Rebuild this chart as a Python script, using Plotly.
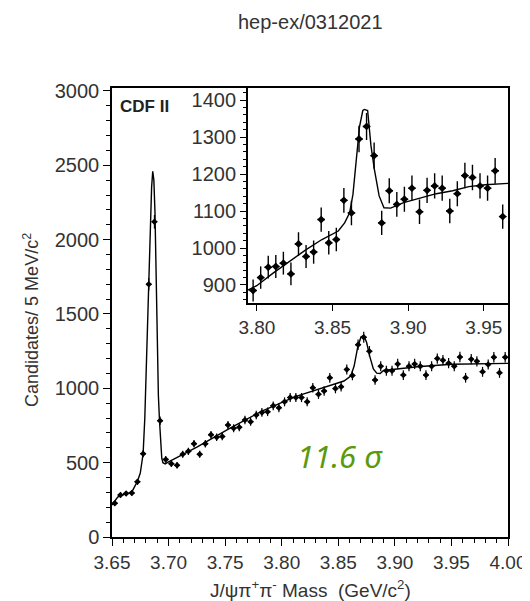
import numpy as np
import plotly.graph_objects as go

# ---------------- data ----------------
bin_start = 3.65
bin_width = 0.005

main_counts = [227, 282, 293, 296, 371, 560, 1700, 2120, 782, 522,
               493, 482, 556, 576, 627, 556, 627, 687, 671, 676,
               753, 731, 738, 787, 776, 820, 838, 842, 882, 869,
               909, 938, 938, 938, 909, 1004, 960, 982, 1071, 998,
               1011, 1127, 1087, 1293, 1344, 1249, 1056, 1149, 1118, 1118,
               1164, 1089, 1149, 1164, 1149, 1089, 1149, 1200, 1189, 1169,
               1149, 1211, 1071, 1196, 1182, 1111, 1160, 1209, 1104, 1209]

main_fit_mass = [3.650, 3.6525, 3.655, 3.660, 3.665, 3.668, 3.670, 3.6725, 3.675, 3.6775,
                 3.679, 3.680, 3.681, 3.6825, 3.684, 3.685, 3.686, 3.687, 3.688, 3.689,
                 3.690, 3.691, 3.692, 3.693, 3.694, 3.695, 3.697, 3.700, 3.725, 3.754,
                 3.783, 3.812, 3.841, 3.855, 3.861, 3.864, 3.867, 3.870, 3.8725, 3.875,
                 3.878, 3.881, 3.884, 3.887, 3.890, 3.900, 3.920, 3.950, 4.000]
main_fit_vals = [215, 240, 268, 285, 295, 310, 335, 375, 430, 560,
                 800, 1050, 1400, 1720, 2050, 2350, 2460, 2400, 2180, 1750,
                 1300, 950, 780, 620, 530, 500, 492, 505, 604, 731,
                 849, 944, 1016, 1049, 1082, 1150, 1270, 1345, 1355, 1310,
                 1210, 1130, 1102, 1100, 1120, 1130, 1145, 1162, 1168]

inset_start = 3.795
inset_counts = [885, 920, 948, 950, 959, 930, 1011, 977, 989, 1077,
                1014, 1023, 1129, 1095, 1295, 1329, 1250, 1068, 1155, 1118,
                1132, 1162, 1098, 1156, 1168, 1162, 1100, 1147, 1196, 1191,
                1168, 1162, 1209, 1085]

inset_fit_mass = [3.794, 3.7999, 3.8107, 3.8215, 3.8323, 3.843, 3.8538, 3.858, 3.8613, 3.8635,
                  3.8657, 3.8678, 3.8700, 3.8711, 3.8732, 3.8754, 3.8776, 3.8808, 3.884, 3.8884,
                  3.897, 3.9078, 3.9186, 3.9294, 3.9401, 3.9509, 3.966]
inset_fit_vals = [886, 898, 932, 964, 995, 1023, 1046, 1068, 1095, 1145,
                  1245, 1327, 1372, 1375, 1372, 1277, 1214, 1141, 1109, 1108,
                  1123, 1134, 1147, 1155, 1166, 1171, 1175]

main_yticks = [0, 500, 1000, 1500, 2000, 2500, 3000]
inset_yticks = [900, 1000, 1100, 1200, 1300, 1400]

# ---------------- derived ----------------
main_mass = [bin_start + bin_width * (i + 0.5) for i in range(len(main_counts))]
inset_mass = [inset_start + bin_width * (i + 0.5) for i in range(len(inset_counts))]

FONT = "Liberation Sans, Arial, sans-serif"
TXT = "#333333"

fig = go.Figure()

fig.add_trace(go.Scatter(x=main_fit_mass, y=main_fit_vals, mode="lines",
                         line=dict(color="black", width=1.4), xaxis="x", yaxis="y",
                         showlegend=False, hoverinfo="skip"))
fig.add_trace(go.Scatter(x=main_mass, y=main_counts, mode="markers",
                         marker=dict(symbol="diamond", size=5, color="black"),
                         error_y=dict(type="data", array=np.sqrt(main_counts), width=0,
                                      thickness=1.2, color="black"),
                         error_x=dict(type="constant", value=bin_width / 2, width=0,
                                      thickness=1.2, color="black"),
                         xaxis="x", yaxis="y", showlegend=False))

fig.add_trace(go.Scatter(x=inset_fit_mass, y=inset_fit_vals, mode="lines",
                         line=dict(color="black", width=1.4), xaxis="x2", yaxis="y2",
                         showlegend=False, hoverinfo="skip"))
fig.add_trace(go.Scatter(x=inset_mass, y=inset_counts, mode="markers",
                         marker=dict(symbol="diamond", size=6, color="black"),
                         error_y=dict(type="data", array=np.sqrt(inset_counts), width=0,
                                      thickness=1.4, color="black"),
                         error_x=dict(type="constant", value=bin_width / 2, width=0,
                                      thickness=1.4, color="black"),
                         xaxis="x2", yaxis="y2", showlegend=False))

axis_common = dict(showline=True, linecolor="black", linewidth=1.5, mirror=True,
                   ticks="outside", tickcolor="black", tickwidth=1.2,
                   showgrid=False, zeroline=False,
                   tickfont=dict(family=FONT, size=19, color=TXT))

fig.update_layout(
    width=530, height=601,
    margin=dict(l=104, r=24, t=80, b=72),
    paper_bgcolor="white", plot_bgcolor="white",
    font=dict(family=FONT, color=TXT),
    xaxis=dict(domain=[0, 1], range=[3.65, 4.00], tick0=3.65, dtick=0.05,
               tickformat=".2f", ticklen=7, anchor="y",
               minor=dict(dtick=0.01, ticklen=4, ticks="outside", tickcolor="black"),
               **axis_common),
    yaxis=dict(domain=[0, 1], range=[0, 3020], tickvals=main_yticks, ticklen=7,
               anchor="x",
               minor=dict(dtick=100, ticklen=4, ticks="outside", tickcolor="black"),
               **axis_common),
    xaxis2=dict(domain=[0.343, 1.0], range=[3.794, 3.966], tick0=3.80, dtick=0.05,
                tickformat=".2f", ticklen=6, anchor="y2",
                **axis_common),
    yaxis2=dict(domain=[0.521, 1.0], range=[851, 1433], tickvals=inset_yticks,
                ticklen=6, anchor="x2",
                minor=dict(dtick=20, ticklen=3, ticks="outside", tickcolor="black"),
                **axis_common),
)

fig.update_xaxes(tickfont=dict(size=19))
fig.update_yaxes(tickfont=dict(size=20))

annotations = [
    dict(text="hep-ex/0312021", xref="paper", yref="paper", x=0.5, y=1.147,
         xanchor="center", yanchor="middle", showarrow=False,
         font=dict(family=FONT, size=20, color=TXT)),
    dict(text="Candidates/ 5 MeV/c<sup>2</sup>", xref="paper", yref="paper",
         x=-0.205, y=0.483, textangle=-90, xanchor="center", yanchor="middle",
         showarrow=False, font=dict(family=FONT, size=18, color=TXT)),
    dict(text="J/ψπ<sup>+</sup>π<sup>-</sup> Mass  (GeV/c<sup>2</sup>)",
         xref="paper", yref="paper", x=0.5, y=-0.084, xanchor="center",
         yanchor="top", showarrow=False, font=dict(family=FONT, size=19, color=TXT)),
    dict(text="<b>CDF II</b>", xref="paper", yref="paper", x=0.015, y=0.958,
         xanchor="left", yanchor="middle", showarrow=False,
         font=dict(family=FONT, size=17, color="#222222")),
    dict(text="<i>11.6 σ</i>", xref="paper", yref="paper", x=0.577, y=0.18,
         xanchor="center", yanchor="middle", showarrow=False,
         font=dict(family="Noto Sans, sans-serif", size=31, color="#5B9A0B")),
]
fig.update_layout(annotations=annotations)

fig.write_html("out.html")
